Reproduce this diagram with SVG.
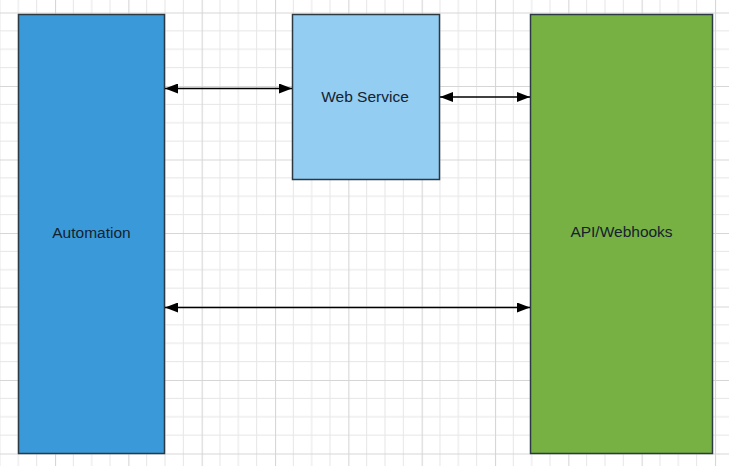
<svg xmlns="http://www.w3.org/2000/svg" width="729" height="466" viewBox="0 0 729 466">
<defs>
<pattern id="grid" patternUnits="userSpaceOnUse" x="55" y="12.5" width="73.33" height="73.5">
<g stroke="#e6e6e6" stroke-width="1">
<line x1="18.33" y1="0" x2="18.33" y2="73.5"/>
<line x1="36.67" y1="0" x2="36.67" y2="73.5"/>
<line x1="55" y1="0" x2="55" y2="73.5"/>
<line x1="0" y1="18.37" x2="73.33" y2="18.37"/>
<line x1="0" y1="36.75" x2="73.33" y2="36.75"/>
<line x1="0" y1="55.12" x2="73.33" y2="55.12"/>
</g>
<g stroke="#d6d6d6" stroke-width="1.2">
<line x1="0.5" y1="0" x2="0.5" y2="73.5"/>
<line x1="0" y1="0.5" x2="73.33" y2="0.5"/>
</g>
</pattern>
<marker id="ah" viewBox="0 0 13 10" refX="13" refY="5" markerWidth="13" markerHeight="10" markerUnits="userSpaceOnUse" orient="auto-start-reverse">
<path d="M0,0 L13,5 L0,10 Z" fill="#000"/>
</marker>
</defs>
<style>
.box{stroke:#2b3a42;stroke-width:1.5}
.lbl{font-family:"Liberation Sans",Arial,sans-serif;font-size:15.5px;fill:#15222e;text-anchor:middle;dominant-baseline:central}
.conn{stroke:#000;stroke-width:1.5;fill:none;marker-start:url(#ah);marker-end:url(#ah)}
</style>
<rect x="0" y="0" width="729" height="466" fill="#fff"/>
<rect x="0" y="0" width="729" height="466" fill="url(#grid)"/>
<g id="automation">
<rect class="box" x="18.5" y="14.5" width="146" height="439" fill="#3a9ad9"/>
<text class="lbl" x="91.5" y="232">Automation</text>
</g>
<g id="web-service">
<rect class="box" x="292.5" y="14.5" width="147" height="165" fill="#93cdf1"/>
<text class="lbl" x="365" y="96">Web Service</text>
</g>
<g id="api-webhooks">
<rect class="box" x="530.5" y="14.5" width="182" height="439" fill="#77b144"/>
<text class="lbl" x="621.5" y="231">API/Webhooks</text>
</g>
<g id="connectors">
<line class="conn" x1="165" y1="88.5" x2="292" y2="88.5"/>
<line class="conn" x1="440" y1="97" x2="530" y2="97"/>
<line class="conn" x1="165" y1="307.5" x2="530" y2="307.5"/>
</g>
</svg>
